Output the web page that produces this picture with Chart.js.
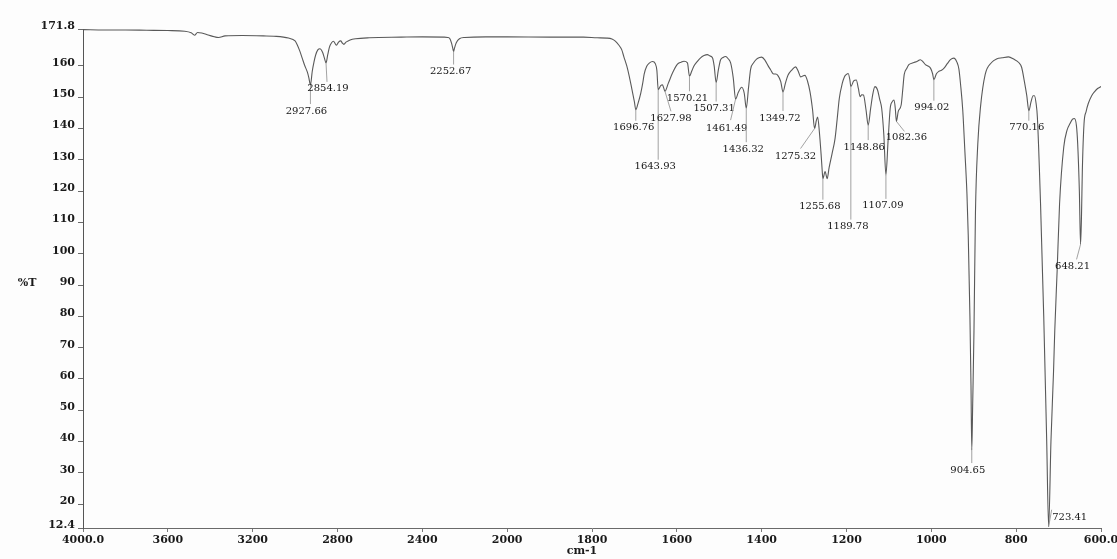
<!DOCTYPE html>
<html>
<head>
<meta charset="utf-8">
<title>IR spectrum</title>
<script src="https://cdn.jsdelivr.net/npm/chart.js@4.4.0/dist/chart.umd.min.js"></script>
<style>
  html, body { margin: 0; padding: 0; background: #fdfdfd; }
  canvas { display: block; }
</style>
</head>
<body>
<canvas id="ir" width="1117" height="559"></canvas>
<script>
// Wavenumber (cm-1), descending, and the matching transmittance (%T)
const wavenumbers = [
  4000, 3900, 3800, 3700, 3600, 3520, 3490, 3474, 3460, 3440, 3410, 3380, 3361, 3330, 3250, 3150, 3100,
  3031, 3000, 2990, 2978, 2966, 2955, 2942, 2935, 2927.66, 2919, 2911, 2903, 2892, 2883, 2870, 2862,
  2854.19, 2846, 2838, 2828, 2819, 2810, 2805, 2795, 2785, 2777, 2770, 2760, 2750, 2730, 2715, 2650,
  2500, 2400, 2300, 2280, 2270, 2262, 2256, 2252.67, 2248, 2240, 2225, 2200, 2100, 2000, 1900, 1820,
  1788, 1765, 1753, 1745, 1737, 1730, 1725, 1718, 1712, 1706, 1700, 1696.76, 1692, 1685, 1680, 1677,
  1671, 1665, 1657, 1651, 1647, 1643.93, 1638, 1634, 1631, 1627.98, 1620, 1610, 1599, 1590, 1583, 1575,
  1570.21, 1565, 1560, 1552, 1544, 1536, 1528, 1522, 1516, 1512, 1507.31, 1502, 1497, 1491, 1485, 1479,
  1473, 1467, 1461.49, 1455, 1447, 1441, 1436.32, 1431, 1426, 1419, 1412, 1405, 1400, 1392, 1385, 1379,
  1373, 1367, 1362, 1355, 1349.72, 1344, 1338, 1329, 1320, 1314, 1308, 1303, 1298, 1292, 1286, 1280,
  1275.32, 1271, 1268, 1264, 1260, 1257.5, 1255.68, 1250.5, 1245.5, 1241, 1234, 1227, 1222, 1217, 1210,
  1205, 1200, 1196, 1192, 1189.78, 1183, 1177, 1172, 1168, 1164, 1160, 1154, 1148.86, 1143, 1138, 1133,
  1127, 1122, 1117, 1112, 1107.09, 1102, 1097, 1092, 1088, 1085, 1082.36, 1078, 1071, 1067, 1064, 1058,
  1053, 1043, 1033, 1026, 1020, 1014, 1008, 1002, 997, 994.02, 988, 982, 976, 970, 962, 955, 947, 940,
  935, 931, 926, 921, 916, 913, 909, 906.5, 904.65, 902.5, 899.5, 896, 890.5, 884, 873, 858, 845, 833,
  818, 806, 794, 787, 781, 775, 770.16, 765, 760, 757, 753, 750, 742.5, 735, 728, 723.41, 718, 712, 709,
  703.4, 697.7, 687.8, 680, 673, 667, 662.8, 658, 655, 651, 648.21, 646, 644, 640, 635, 630, 622, 615,
  608, 600
];
const transmittance = [
  171.6, 171.5, 171.5, 171.4, 171.3, 171.1, 170.6, 169.8, 170.7, 170.5, 169.9, 169.3, 169.1, 169.6, 169.7, 169.6, 169.5,
  168.9, 168.0, 166.8, 164.8, 162.4, 160.2, 158.0, 156.2, 153.9, 158.3, 161.2, 163.5, 165.2, 165.5, 164.3, 162.6,
  161.0, 163.6, 166.0, 167.4, 167.9, 167.0, 166.6, 167.6, 168.0, 167.3, 166.9, 167.6, 168.0, 168.5, 168.7, 169.0,
  169.2, 169.3, 169.2, 169.1, 168.7, 167.2, 165.5, 164.6, 165.8, 167.4, 168.7, 169.1, 169.3, 169.3, 169.2, 169.2,
  169.0, 168.9, 168.6, 167.9, 166.7, 165.2, 163.0, 160.0, 156.6, 152.6, 148.5, 146.0, 147.8, 151.3, 154.8, 157.4,
  159.9, 160.9, 161.4, 160.8, 158.5, 152.4, 153.7, 154.0, 153.0, 151.9, 154.5, 157.8, 160.5, 161.2, 161.5, 161.0,
  156.7, 158.3, 159.9, 161.4, 162.6, 163.3, 163.6, 163.2, 162.6, 160.0, 154.7, 158.8, 161.9, 162.7, 163.0, 162.3,
  160.9, 156.2, 149.4, 151.6, 153.2, 151.2, 146.5, 153.0, 159.0, 161.0, 162.2, 162.7, 162.8, 161.8, 160.1, 158.8,
  157.5, 157.4, 157.0, 155.0, 151.7, 154.5, 157.0, 158.7, 159.7, 158.4, 156.5, 156.8, 157.0, 155.2, 151.7, 146.0,
  140.0, 142.6, 143.7, 139.0, 132.0, 127.0, 124.0, 126.3, 124.0, 127.5, 132.0, 136.8, 143.0, 149.6, 154.4,
  156.5, 157.3, 157.6, 155.5, 153.4, 155.2, 155.5, 152.8, 150.2, 150.8, 150.7, 146.0, 141.1, 146.5, 151.0, 153.4,
  152.4, 149.5, 146.4, 138.0, 125.2, 136.0, 146.4, 148.6, 149.1, 146.5, 142.3, 145.5, 147.6, 153.0, 157.2, 159.2,
  160.4, 161.0, 161.5, 162.0, 161.4, 160.4, 160.0, 159.3, 157.5, 155.6, 157.5, 158.3, 158.6, 159.3, 160.8, 162.0, 162.5, 161.3,
  159.0, 154.0, 146.0, 133.0, 119.0, 106.0, 80.0, 58.0, 37.3, 52.0, 75.0, 113.0, 135.0, 147.0, 157.3, 161.1, 162.3, 162.6,
  162.9, 162.2, 161.1, 159.5, 155.3, 150.5, 145.7, 148.5, 150.5, 150.5, 148.0, 143.6, 115.8, 80.0, 40.0, 12.8, 40.0, 62.0, 75.4,
  94.6, 115.9, 134.1, 139.5, 141.6, 143.0, 143.2, 141.0, 135.2, 120.0, 103.0, 112.0, 126.6, 141.6, 145.5, 148.0, 150.5, 151.8,
  152.8, 153.4
];

// Annotated band positions (cm-1)
const peakWavenumbers = [
  2927.66, 2854.19, 2252.67, 1696.76, 1643.93, 1627.98, 1570.21, 1507.31, 1461.49, 1436.32, 1349.72,
  1275.32, 1255.68, 1189.78, 1148.86, 1107.09, 1082.36, 994.02, 904.65, 770.16, 723.41, 648.21
];

// Axis ticks
const xTickValues = [4000, 3600, 3200, 2800, 2400, 2000, 1800, 1600, 1400, 1200, 1000, 800, 600];
const xTickLabels = ['4000.0', '3600', '3200', '2800', '2400', '2000', '1800', '1600', '1400', '1200', '1000', '800', '600.0'];
const yTickValues = [12.4, 20, 30, 40, 50, 60, 70, 80, 90, 100, 110, 120, 130, 140, 150, 160, 171.8];
const yTickLabels = ['12.4', '20', '30', '40', '50', '60', '70', '80', '90', '100', '110', '120', '130', '140', '150', '160', '171.8'];

// Where each band label sits relative to its trough (pixels): text centre (dx, dy), leader end (lx, ly)
const labelPlacement = [
  { dx: -4, dy: 26, lx: 0, ly: 19 },   // 2927.66
  { dx: 2, dy: 26, lx: 1, ly: 19 },    // 2854.19
  { dx: -3, dy: 20, lx: 0, ly: 13 },   // 2252.67
  { dx: -2, dy: 18, lx: 0, ly: 11 },   // 1696.76
  { dx: -3, dy: 77, lx: 0, ly: 70 },   // 1643.93
  { dx: 6, dy: 27, lx: 6, ly: 20 },    // 1627.98
  { dx: -2, dy: 22, lx: 0, ly: 15 },   // 1570.21
  { dx: -2, dy: 26, lx: 0, ly: 19 },   // 1507.31
  { dx: -9, dy: 29, lx: -5, ly: 21 },  // 1461.49
  { dx: -3, dy: 41, lx: 0, ly: 34 },   // 1436.32
  { dx: -3, dy: 26, lx: 0, ly: 19 },   // 1349.72
  { dx: -19, dy: 28, lx: -14, ly: 20 },// 1275.32
  { dx: -3, dy: 28, lx: 0, ly: 21 },   // 1255.68
  { dx: -3, dy: 140, lx: 0, ly: 133 }, // 1189.78
  { dx: -4, dy: 22, lx: 0, ly: 15 },   // 1148.86
  { dx: -3, dy: 31, lx: 0, ly: 24 },   // 1107.09
  { dx: 10, dy: 16, lx: 8, ly: 10 },   // 1082.36
  { dx: -2, dy: 28, lx: 0, ly: 21 },   // 994.02
  { dx: -4, dy: 20, lx: 0, ly: 13 },   // 904.65
  { dx: -2, dy: 17, lx: 0, ly: 10 },   // 770.16
  { dx: 21, dy: -9, lx: 3, ly: -17 },  // 723.41
  { dx: -8, dy: 22, lx: -4, ly: 15 }   // 648.21
];

// Wavenumber axis with the usual 2x expansion below 2000 cm-1
class SplitWavenumberScale extends Chart.LinearScale {
  _fold(v) { return v > 2000 ? 2000 + (v - 2000) / 2 : v; }
  _unfold(u) { return u > 2000 ? 2000 + (u - 2000) * 2 : u; }
  getPixelForValue(value) {
    const a = this._fold(this.min), b = this._fold(this.max);
    return this.getPixelForDecimal((this._fold(value) - a) / (b - a));
  }
  getValueForPixel(pixel) {
    const a = this._fold(this.min), b = this._fold(this.max);
    return this._unfold(a + this.getDecimalForPixel(pixel) * (b - a));
  }
}
SplitWavenumberScale.id = 'splitwn';
SplitWavenumberScale.defaults = {};
Chart.register(SplitWavenumberScale);

const serifBold = { family: '"DejaVu Serif", "Liberation Serif", serif', size: 11, weight: 'bold' };

const bandLabels = {
  id: 'bandLabels',
  afterDatasetsDraw(chart) {
    const { ctx, scales: { x, y } } = chart;
    ctx.save();
    ctx.lineWidth = 0.8;
    ctx.strokeStyle = '#8c8c8c';
    ctx.fillStyle = '#141414';
    ctx.font = '10px "DejaVu Serif", "Liberation Serif", serif';
    ctx.textAlign = 'center';
    ctx.textBaseline = 'middle';
    peakWavenumbers.forEach((w, i) => {
      const idx = wavenumbers.indexOf(w);
      const px = x.getPixelForValue(w);
      const py = y.getPixelForValue(transmittance[idx]);
      const p = labelPlacement[i];
      ctx.beginPath();
      ctx.moveTo(px, py);
      ctx.lineTo(px + p.lx, py + p.ly);
      ctx.stroke();
      ctx.fillText(w.toFixed(2), px + p.dx, py + p.dy);
    });
    ctx.font = 'bold 11px "DejaVu Serif", "Liberation Serif", serif';
    ctx.fillStyle = '#1a1a1a';
    ctx.fillText('%T', 27, y.getPixelForValue(90) - 2);
    ctx.fillText('cm-1', x.getPixelForValue(1800) - 10, 551);
    ctx.restore();
  }
};

const points = wavenumbers.map((w, i) => ({ x: w, y: transmittance[i] }));

new Chart(document.getElementById('ir'), {
  type: 'line',
  data: {
    datasets: [{
      data: points,
      borderColor: '#595959',
      borderWidth: 1.1,
      pointRadius: 0,
      fill: false,
      cubicInterpolationMode: 'monotone'
    }]
  },
  options: {
    responsive: false,
    animation: false,
    devicePixelRatio: 1,
    layout: { padding: { left: 0, right: 16, top: 29, bottom: 0 } },
    plugins: { legend: { display: false }, tooltip: { enabled: false } },
    scales: {
      x: {
        type: 'splitwn',
        min: 600,
        max: 4000,
        reverse: true,
        grid: { display: true, drawOnChartArea: false, drawTicks: true, tickLength: 4, color: '#7a7a7a' },
        border: { display: true, color: '#6a6a6a', width: 1 },
        ticks: {
          autoSkip: false, maxRotation: 0, minRotation: 0, padding: 2, color: '#1a1a1a', font: serifBold,
          callback: (v, i) => xTickLabels[i]
        },
        afterBuildTicks: (s) => { s.ticks = xTickValues.map(v => ({ value: v })); },
        afterFit: (s) => { s.height = 31; s.paddingLeft = 0; s.paddingRight = 0; }
      },
      y: {
        min: 12.4,
        max: 171.8,
        grid: { display: true, drawOnChartArea: false, drawTicks: true, tickLength: 5, color: '#6a6a6a' },
        border: { display: true, color: '#555555', width: 1 },
        ticks: {
          autoSkip: false, padding: 3, labelOffset: -3, color: '#1a1a1a', font: serifBold,
          callback: (v, i) => yTickLabels[i]
        },
        afterBuildTicks: (s) => { s.ticks = yTickValues.map(v => ({ value: v })); },
        afterFit: (s) => { s.width = 83; s.paddingTop = 0; s.paddingBottom = 0; }
      }
    }
  },
  plugins: [bandLabels]
});
</script>
</body>
</html>
